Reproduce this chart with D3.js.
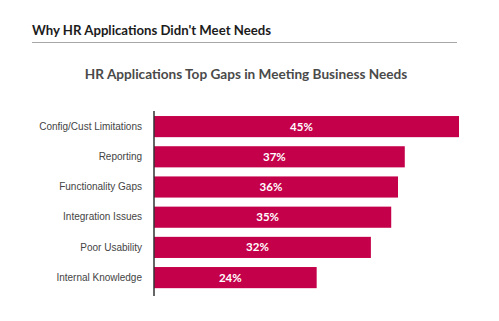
<!DOCTYPE html>
<html>
  <head>
    <meta charset="utf-8">
    <title>HR Applications Top Gaps</title>
    <script src="https://d3js.org/d3.v7.min.js"></script>
    <style>
      html, body { margin: 0; padding: 0; background: #fff; }
      svg { display: block; font-family: Lato, "Open Sans", sans-serif; }
      .title { font-size: 13.2px; font-weight: bold; fill: #1c1c1c; }
      .subtitle { font-size: 13.6px; font-weight: bold; fill: #4a4a4a; }
      .cat { font-size: 10px; fill: #444; }
      .val { font-size: 11.5px; font-weight: bold; fill: #fff; }
    </style>
  </head>
  <body>
    <script>
      var categories = ["Config/Cust Limitations", "Reporting", "Functionality Gaps",
                        "Integration Issues", "Poor Usability", "Internal Knowledge"];
      var values = [45, 37, 36, 35, 32, 24];

      var width = 499, height = 321;

      var svg = d3.select("body").append("svg")
          .attr("width", width)
          .attr("height", height);

      svg.append("text")
          .attr("class", "title")
          .attr("x", 32).attr("y", 35)
          .text("Why HR Applications Didn't Meet Needs");

      svg.append("line")
          .attr("x1", 32).attr("x2", 457)
          .attr("y1", 42.5).attr("y2", 42.5)
          .attr("stroke", "#a8a8a8")
          .attr("stroke-width", 1.2);

      svg.append("text")
          .attr("class", "subtitle")
          .attr("x", 246).attr("y", 79)
          .attr("text-anchor", "middle")
          .text("HR Applications Top Gaps in Meeting Business Needs");

      var data = categories.map(function (c, i) { return {name: c, value: values[i]}; });

      var x = d3.scaleLinear().domain([0, 45]).range([154, 459]);
      var y = d3.scaleBand().domain(categories).range([111.5, 292.7])
          .paddingInner(0.3).paddingOuter(0.15);

      svg.selectAll(".bar")
          .data(data)
          .enter().append("rect")
          .attr("class", "bar")
          .attr("x", x(0))
          .attr("y", function (d) { return y(d.name); })
          .attr("width", function (d) { return x(d.value) - x(0); })
          .attr("height", y.bandwidth())
          .attr("fill", "#c5004a");

      svg.selectAll(".val")
          .data(data)
          .enter().append("text")
          .attr("class", "val")
          .attr("x", function (d) { return (x(0) + x(d.value)) / 2 - 5; })
          .attr("y", function (d) { return y(d.name) + y.bandwidth() / 2 + 4; })
          .attr("text-anchor", "middle")
          .text(function (d) { return d.value + "%"; });

      var axis = d3.axisLeft(y).tickSize(0).tickPadding(12);
      var g = svg.append("g")
          .attr("transform", "translate(" + x(0) + ",0)")
          .call(axis);
      g.select(".domain").attr("stroke", "#333").attr("stroke-width", 1.5)
          .attr("d", "M0,111V296");
      g.selectAll("text").attr("class", "cat").attr("font-family", null).attr("font-size", null);
    </script>
  </body>
</html>
